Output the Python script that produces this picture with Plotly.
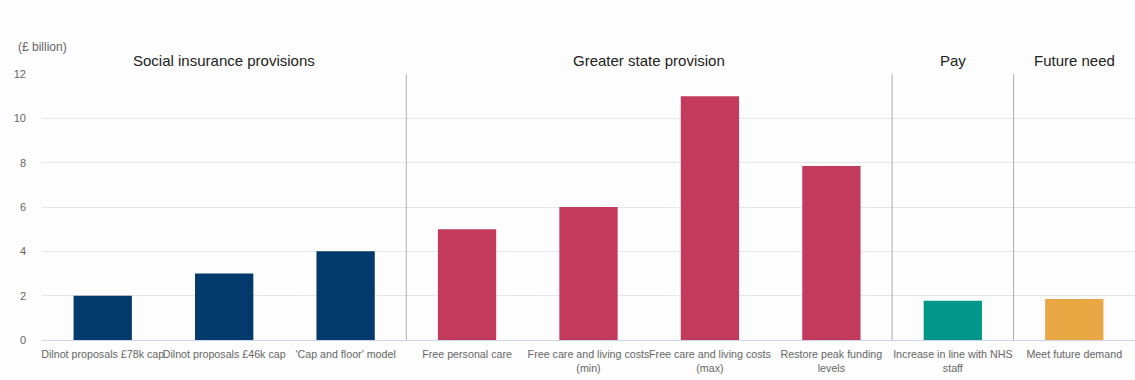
import plotly.graph_objects as go

categories = [
    "Dilnot proposals £78k cap",
    "Dilnot proposals £46k cap",
    "'Cap and floor' model",
    "Free personal care",
    "Free care and living costs<br>(min)",
    "Free care and living costs<br>(max)",
    "Restore peak funding<br>levels",
    "Increase in line with NHS<br>staff",
    "Meet future demand",
]
values = [2.0, 3.0, 4.0, 5.0, 6.0, 11.0, 7.85, 1.77, 1.85]
groups = ["Social insurance provisions"] * 3 + ["Greater state provision"] * 4 + ["Pay"] + ["Future need"]
group_names = ["Social insurance provisions", "Greater state provision", "Pay", "Future need"]
group_colors = {
    "Social insurance provisions": "#013A6B",
    "Greater state provision": "#C33B5C",
    "Pay": "#00978A",
    "Future need": "#E9A843",
}
y_ticks = [0, 2, 4, 6, 8, 10, 12]

fig = go.Figure()
fig.add_trace(go.Bar(
    x=list(range(len(categories))),
    y=values,
    marker=dict(color=[group_colors[g] for g in groups], line=dict(width=0)),
    width=0.48,
    hoverinfo="y",
))

font_family = "Liberation Sans, Arial, sans-serif"

# group separators and labels
idx = 0
for gi, name in enumerate(group_names):
    n = groups.count(name)
    start, end = idx - 0.5, idx + n - 0.5
    fig.add_annotation(x=(start + end) / 2, y=1.049, xref="x", yref="paper",
                       text=name, showarrow=False,
                       font=dict(size=15, color="#222", family=font_family),
                       xanchor="center", yanchor="middle")
    if gi > 0:
        fig.add_shape(type="line", x0=start, x1=start, y0=0, y1=1,
                      xref="x", yref="paper",
                      line=dict(color="#b0b0b0", width=1))
    idx += n

fig.add_annotation(x=-26 / 1093, y=1.1015, xref="paper", yref="paper",
                   text="(£ billion)", showarrow=False, xanchor="left", yanchor="middle",
                   font=dict(size=12, color="#666", family=font_family))

fig.update_layout(
    width=1135, height=380,
    margin=dict(l=42, r=0, t=74, b=40),
    paper_bgcolor="#fdfdfd",
    plot_bgcolor="#fdfdfd",
    showlegend=False,
    bargap=0.52,
    font=dict(family=font_family, size=11, color="#555"),
    xaxis=dict(
        tickmode="array",
        tickvals=list(range(len(categories))),
        ticktext=categories,
        range=[-0.5, len(categories) - 0.5],
        showgrid=False,
        showline=True, linecolor="#ccd6eb", linewidth=1,
        ticks="", automargin=False,
        tickfont=dict(size=10.7, color="#666"),
        tickangle=0,
        ticklabelstandoff=4,
    ),
    yaxis=dict(
        range=[0, 12],
        tickvals=y_ticks,
        showgrid=True, gridcolor="#e6e6e6", gridwidth=1,
        zeroline=False, showline=False,
        ticks="", automargin=False,
        ticklabelstandoff=15,
        tickfont=dict(size=11, color="#666"),
    ),
)

fig.write_html("out.html")
